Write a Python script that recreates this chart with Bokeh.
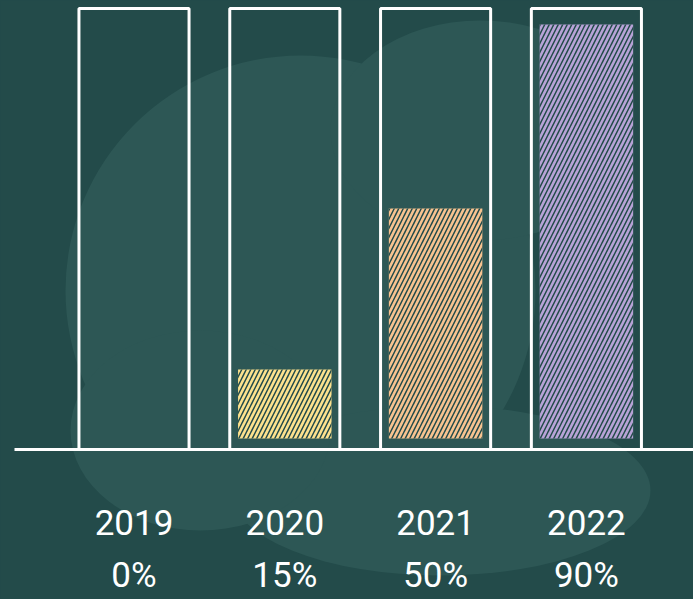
from bokeh.plotting import figure
from bokeh.models import ColumnDataSource, Range1d
from bokeh.core.properties import value
from bokeh.embed import file_html
from bokeh.resources import INLINE

years = ["2019", "2020", "2021", "2022"]
percents = [0, 15, 50, 90]
pct_labels = ["0%", "15%", "50%", "90%"]
colors = ["#fde28e", "#fde28e", "#f8c390", "#b8a3d7"]

BG = "#234b4a"
BLOB = "#2d5755"
W, H = 693, 599
px_per_unit_x = 150.8
px_per_unit_y = 4.6
x0_px = 133.5
base_px = 150

x_start = -x0_px / px_per_unit_x
x_end = (W - x0_px) / px_per_unit_x
y_start = -base_px / px_per_unit_y
y_end = (H - base_px) / px_per_unit_y

def dx(px):
    return (px - x0_px) / px_per_unit_x

def dy(py):
    return (H - base_px - py) / px_per_unit_y

xs = list(range(len(years)))
pad = 2.4
box_top = y_end - 8 / px_per_unit_y

src = ColumnDataSource(dict(
    x=xs,
    top=[pad + v for v in percents],
    bottom=[pad] * len(xs),
    color=colors,
    year=years,
    pct=pct_labels,
    box_top=[box_top] * len(xs),
    box_bottom=[0] * len(xs),
    yl=[-73 / px_per_unit_y] * len(xs),
    pl=[-126 / px_per_unit_y] * len(xs),
))

p = figure(width=W, height=H, output_backend="svg", toolbar_location=None,
           x_range=Range1d(x_start, x_end), y_range=Range1d(y_start, y_end),
           min_border=0)
p.background_fill_color = BG
p.border_fill_color = BG
p.outline_line_color = None
p.axis.visible = False
p.grid.visible = False

# decorative background blob
p.ellipse(x=[dx(300), dx(440), dx(200), dx(480)], y=[dy(290), dy(490), dy(430), dy(130)],
          width=[470, 420, 260, 300], height=[470, 170, 200, 220],
          width_units="screen", height_units="screen",
          fill_color=BLOB, line_color=None)

# outline boxes
p.vbar(x="x", top="box_top", bottom="box_bottom", width=0.73, source=src,
       fill_color=None, line_color="white", line_width=3)

# scribble fills
p.vbar(x="x", top="top", bottom="bottom", width=0.62, source=src,
       fill_color="color", line_color=None,
       hatch_pattern="/", hatch_color=BG, hatch_weight=1.5, hatch_scale=9)

# baseline
p.segment(x0=[x_start + 14 / px_per_unit_x], y0=[0], x1=[x_end + 1], y1=[0],
          line_color="white", line_width=3)

font = value("Roboto")
p.text(x="x", y="yl", text="year", source=src, text_color="white",
       text_font=font, text_font_size="35px", text_align="center",
       text_baseline="middle")
p.text(x="x", y="pl", text="pct", source=src, text_color="white",
       text_font=font, text_font_size="35px", text_align="center",
       text_baseline="middle")

html = file_html(p, INLINE)
css = "<style>html,body{margin:0 !important;padding:0;overflow:hidden;background:%s;}</style></head>" % BG
html = html.replace("</head>", css, 1)
open("out.html", "w").write(html)
